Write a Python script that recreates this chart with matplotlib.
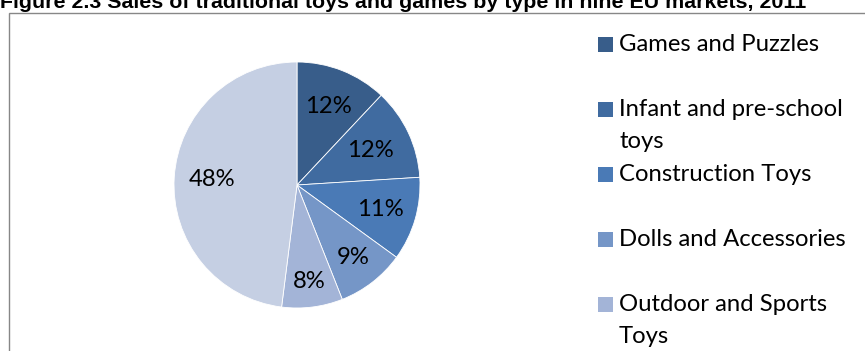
import numpy as np
import matplotlib
matplotlib.use("Agg")
import matplotlib.pyplot as plt
from matplotlib.patches import Rectangle

# Sales shares of traditional toys and games by type
categories = [
    "Games and Puzzles",
    "Infant and pre-school\ntoys",
    "Construction Toys",
    "Dolls and Accessories",
    "Outdoor and Sports\nToys",
    "Other",
]
shares = [12, 12, 11, 9, 8, 48]
colors = ["#385D8A", "#406BA0", "#4A7AB6", "#7596C7", "#A3B4D7", "#C5CFE3"]
title = "Figure 2.3 Sales of traditional toys and games by type in nine EU markets, 2011"

W, H = 865, 351
fig = plt.figure(figsize=(W / 100, H / 100), dpi=100)
fig.patch.set_facecolor("white")

body_font = ["Lato", "DejaVu Sans"]
body_size = 17.2

# Chart frame (runs off the right and bottom edges)
fig.patches.append(Rectangle((9 / W, -0.1), 1.2, (H - 12.5) / H + 0.1,
                             transform=fig.transFigure, fill=False,
                             edgecolor="#878787", linewidth=1.0))

# Title, partly clipped at the top edge
fig.text(-0.5 / W, 1 - 7.5 / H, title, ha="left", va="baseline",
         fontsize=15.4, fontweight="bold", family=["Liberation Sans"],
         color="#000000")

# Pie axes
cx, cy, r = 297, 185, 123
ax = fig.add_axes([(cx - r) / W, (H - cy - r) / H, 2 * r / W, 2 * r / H])
wedges, texts, autotexts = ax.pie(
    shares, colors=colors, startangle=90, counterclock=False,
    autopct="%.0f%%", pctdistance=0.71, radius=1.0,
    wedgeprops=dict(edgecolor="white", linewidth=0.6),
    textprops=dict(fontsize=body_size, family=body_font, color="#000000"),
)

# Fine-tune how far each percentage sits from the centre
label_radius = [0.69, 0.66, 0.71, 0.75, 0.79, 0.69]
for w, t, lr in zip(wedges, autotexts, label_radius):
    ang = np.deg2rad((w.theta1 + w.theta2) / 2)
    t.set_position((lr * np.cos(ang), lr * np.sin(ang)))

ax.set_xlim(-1, 1)
ax.set_ylim(-1, 1)
ax.set_aspect("equal")
ax.axis("off")

# Legend entries
leg_x_box, leg_x_text = 598, 619
y0, step, line_h = 44.5, 65, 32
for i, (lab, col) in enumerate(zip(categories, colors)):
    yc = y0 + i * step
    fig.patches.append(Rectangle((leg_x_box / W, 1 - (yc + 7.5) / H), 15 / W, 15 / H,
                                 transform=fig.transFigure, facecolor=col,
                                 edgecolor="none"))
    for j, line in enumerate(lab.split("\n")):
        fig.text(leg_x_text / W, 1 - (yc + j * line_h) / H, line,
                 ha="left", va="center", fontsize=body_size, family=body_font,
                 color="#000000")

fig.savefig("out.png", dpi=100)
